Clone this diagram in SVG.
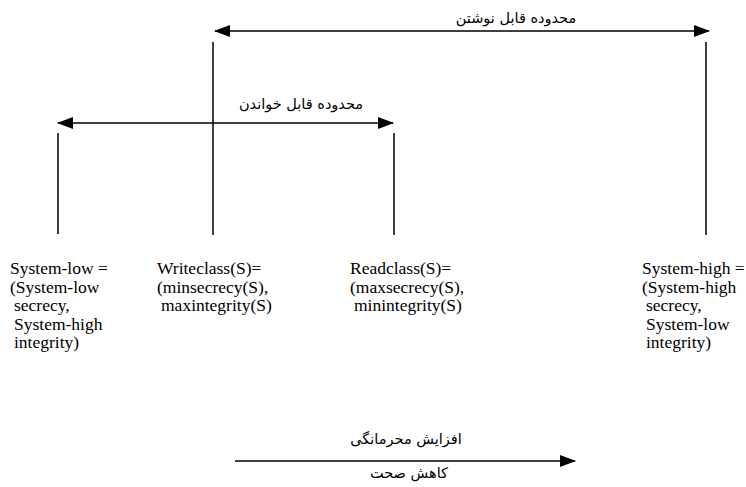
<svg xmlns="http://www.w3.org/2000/svg" width="746" height="487" viewBox="0 0 746 487">
  <defs>
    <marker id="head" viewBox="0 0 16 12" refX="15" refY="6" markerWidth="16" markerHeight="12" markerUnits="userSpaceOnUse" orient="auto-start-reverse">
      <path d="M0,0 L16,6 L0,12 Z" fill="#000000"/>
    </marker>
  </defs>
  <rect x="0" y="0" width="746" height="487" fill="#ffffff"/>

  <g id="connectors" stroke="#000000" stroke-width="1.5" fill="none">
    <!-- writable range -->
    <line x1="215" y1="31" x2="709" y2="31" marker-start="url(#head)" marker-end="url(#head)"/>
    <!-- readable range -->
    <line x1="58" y1="123" x2="393" y2="123" marker-start="url(#head)" marker-end="url(#head)"/>
    <!-- secrecy / integrity direction -->
    <line x1="235" y1="461" x2="575" y2="461" marker-end="url(#head)"/>
    <!-- boundary ticks -->
    <line x1="58" y1="133" x2="58" y2="234"/>
    <line x1="213" y1="42" x2="213" y2="235"/>
    <line x1="394" y1="133" x2="394" y2="235"/>
    <line x1="706" y1="42" x2="706" y2="235"/>
  </g>

  <g id="write-range-label">
    <text x="516" y="23" font-family="'DejaVu Sans', sans-serif" font-size="14.5" text-anchor="middle">محدوده قابل نوشتن</text>
  </g>
  <g id="read-range-label">
    <text x="301" y="109" font-family="'DejaVu Sans', sans-serif" font-size="14.5" text-anchor="middle">محدوده قابل خواندن</text>
  </g>

  <g id="system-low">
    <text x="10" y="274" font-family="'Liberation Serif', serif" font-size="17.5">System-low =</text>
    <text x="10" y="292.5" font-family="'Liberation Serif', serif" font-size="17.5">(System-low</text>
    <text x="14" y="311" font-family="'Liberation Serif', serif" font-size="17.5">secrecy,</text>
    <text x="14" y="329.5" font-family="'Liberation Serif', serif" font-size="17.5">System-high</text>
    <text x="14" y="348" font-family="'Liberation Serif', serif" font-size="17.5">integrity)</text>
  </g>
  <g id="writeclass">
    <text x="157" y="274" font-family="'Liberation Serif', serif" font-size="17.5">Writeclass(S)=</text>
    <text x="157" y="292.5" font-family="'Liberation Serif', serif" font-size="17.5">(minsecrecy(S),</text>
    <text x="161" y="311" font-family="'Liberation Serif', serif" font-size="17.5">maxintegrity(S)</text>
  </g>
  <g id="readclass">
    <text x="350" y="274" font-family="'Liberation Serif', serif" font-size="17.5">Readclass(S)=</text>
    <text x="350" y="292.5" font-family="'Liberation Serif', serif" font-size="17.5">(maxsecrecy(S),</text>
    <text x="354" y="311" font-family="'Liberation Serif', serif" font-size="17.5">minintegrity(S)</text>
  </g>
  <g id="system-high">
    <text x="642" y="274" font-family="'Liberation Serif', serif" font-size="17.5">System-high =</text>
    <text x="642" y="292.5" font-family="'Liberation Serif', serif" font-size="17.5">(System-high</text>
    <text x="646" y="311" font-family="'Liberation Serif', serif" font-size="17.5">secrecy,</text>
    <text x="646" y="329.5" font-family="'Liberation Serif', serif" font-size="17.5">System-low</text>
    <text x="646" y="348" font-family="'Liberation Serif', serif" font-size="17.5">integrity)</text>
  </g>

  <g id="direction-labels">
    <text x="406" y="444" font-family="'DejaVu Sans', sans-serif" font-size="14.5" text-anchor="middle">افزایش محرمانگی</text>
    <text x="409" y="478" font-family="'DejaVu Sans', sans-serif" font-size="14.5" text-anchor="middle">کاهش صحت</text>
  </g>
</svg>
